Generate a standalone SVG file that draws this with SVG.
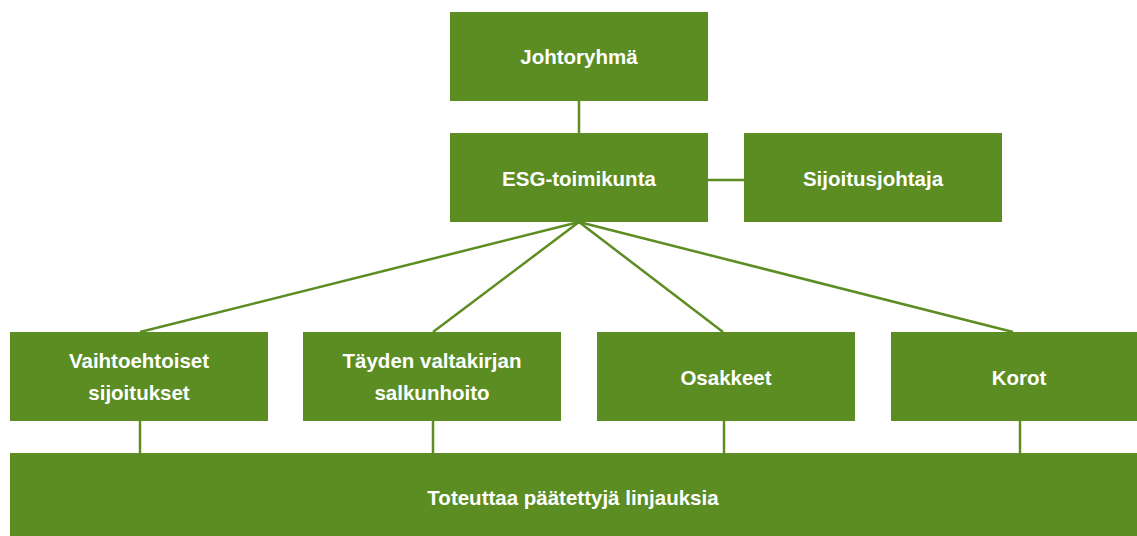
<svg xmlns="http://www.w3.org/2000/svg" width="1137" height="536" viewBox="0 0 1137 536">
<style>
.box{fill:#5b8d22}
.t{fill:#ffffff;font-family:"Liberation Sans",Arial,sans-serif;font-weight:bold;font-size:20.5px;text-anchor:middle}
.c{stroke:#5b8d22;stroke-width:2.5;fill:none}
</style>
<rect width="1137" height="536" fill="#ffffff"/>
<g id="connectors">
<line class="c" x1="579" y1="101" x2="579" y2="133"/>
<line class="c" x1="708" y1="180" x2="744" y2="180"/>
<line class="c" x1="579" y1="222" x2="140" y2="332"/>
<line class="c" x1="579" y1="222" x2="433" y2="332"/>
<line class="c" x1="579" y1="222" x2="723" y2="332"/>
<line class="c" x1="579" y1="222" x2="1013" y2="332"/>
<line class="c" x1="140" y1="421" x2="140" y2="454"/>
<line class="c" x1="433" y1="421" x2="433" y2="454"/>
<line class="c" x1="724" y1="421" x2="724" y2="454"/>
<line class="c" x1="1020" y1="421" x2="1020" y2="454"/>
</g>
<g id="johtoryhma">
<rect class="box" x="450" y="12" width="258" height="89"/>
<text class="t" x="579" y="64">Johtoryhmä</text>
</g>
<g id="esg">
<rect class="box" x="450" y="133" width="258" height="89"/>
<text class="t" x="579" y="186">ESG-toimikunta</text>
</g>
<g id="sijoitusjohtaja">
<rect class="box" x="744" y="133" width="258" height="89"/>
<text class="t" x="873" y="186">Sijoitusjohtaja</text>
</g>
<g id="vaihtoehtoiset">
<rect class="box" x="10" y="332" width="258" height="89"/>
<text class="t" x="139" y="368">Vaihtoehtoiset</text>
<text class="t" x="139" y="400">sijoitukset</text>
</g>
<g id="tayden">
<rect class="box" x="303" y="332" width="258" height="89"/>
<text class="t" x="432" y="368">Täyden valtakirjan</text>
<text class="t" x="432" y="400">salkunhoito</text>
</g>
<g id="osakkeet">
<rect class="box" x="597" y="332" width="258" height="89"/>
<text class="t" x="726" y="385">Osakkeet</text>
</g>
<g id="korot">
<rect class="box" x="891" y="332" width="258" height="89"/>
<text class="t" x="1019" y="385">Korot</text>
</g>
<g id="toteuttaa">
<rect class="box" x="10" y="453" width="1139" height="83"/>
<text class="t" x="573" y="505">Toteuttaa päätettyjä linjauksia</text>
</g>
</svg>
